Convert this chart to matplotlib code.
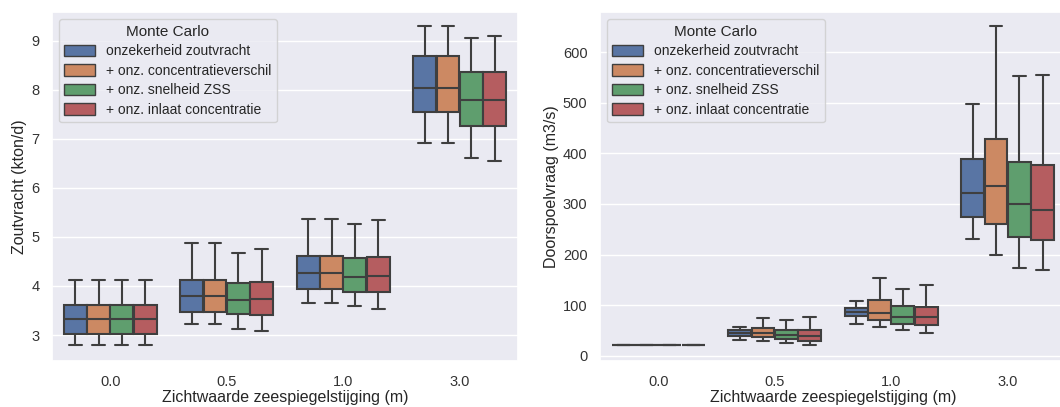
import numpy as np
import matplotlib.pyplot as plt
import seaborn as sns
from matplotlib.patches import Patch

sns.set_theme(style="darkgrid")
plt.rcParams['font.family'] = ['Liberation Sans', 'DejaVu Sans']

groups = ["0.0", "0.5", "1.0", "3.0"]
series = ["onzekerheid zoutvracht", "+ onz. concentratieverschil",
          "+ onz. snelheid ZSS", "+ onz. inlaat concentratie"]

# Zoutvracht (kton/d): [whislo, q1, median, q3, whishi] per group, per series
zout = {
    "onzekerheid zoutvracht":     [[2.80, 3.03, 3.32, 3.61, 4.12], [3.22, 3.46, 3.80, 4.12, 4.87],
                                   [3.65, 3.93, 4.26, 4.62, 5.36], [6.91, 7.55, 8.04, 8.69, 9.30]],
    "+ onz. concentratieverschil": [[2.80, 3.03, 3.32, 3.61, 4.12], [3.22, 3.46, 3.80, 4.12, 4.87],
                                   [3.65, 3.93, 4.26, 4.62, 5.36], [6.91, 7.55, 8.04, 8.69, 9.30]],
    "+ onz. snelheid ZSS":        [[2.80, 3.03, 3.32, 3.61, 4.12], [3.12, 3.42, 3.71, 4.07, 4.68],
                                   [3.59, 3.88, 4.19, 4.58, 5.26], [6.61, 7.27, 7.80, 8.37, 9.06]],
    "+ onz. inlaat concentratie": [[2.80, 3.03, 3.32, 3.61, 4.12], [3.09, 3.40, 3.73, 4.09, 4.76],
                                   [3.54, 3.88, 4.20, 4.60, 5.34], [6.55, 7.26, 7.79, 8.37, 9.10]],
}

# Doorspoelvraag (m3/s)
doorspoel = {
    "onzekerheid zoutvracht":     [[21, 21, 21, 21, 21], [32, 40, 46, 51, 57],
                                   [64, 78, 86, 95, 109], [230, 274, 322, 388, 497]],
    "+ onz. concentratieverschil": [[21, 21, 21, 21, 21], [30, 37, 45, 55, 74],
                                   [58, 71, 84, 110, 154], [200, 260, 336, 428, 651]],
    "+ onz. snelheid ZSS":        [[21, 21, 21, 21, 21], [25, 33, 42, 51, 71],
                                   [51, 64, 77, 99, 132], [174, 234, 299, 382, 553]],
    "+ onz. inlaat concentratie": [[21, 21, 21, 21, 21], [21, 30, 39, 52, 77],
                                   [45, 62, 76, 96, 141], [170, 229, 289, 376, 554]],
}

colors = [sns.desaturate(c, 0.75) for c in sns.color_palette("deep")[:4]]
edge = "#3f3f3f"


def draw(ax, data, ylabel, ylim):
    w = 0.2
    for j, s in enumerate(series):
        stats = []
        for i, g in enumerate(groups):
            lo, q1, med, q3, hi = data[s][i]
            stats.append(dict(whislo=lo, q1=q1, med=med, q3=q3, whishi=hi, fliers=[]))
        pos = np.arange(len(groups)) - 0.4 + w / 2 + j * w
        ax.bxp(stats, positions=pos, widths=w * 0.98, patch_artist=True,
               showfliers=False, manage_ticks=False,
               boxprops=dict(facecolor=colors[j], edgecolor=edge, linewidth=1.5),
               medianprops=dict(color=edge, linewidth=1.5),
               whiskerprops=dict(color=edge, linewidth=1.5),
               capprops=dict(color=edge, linewidth=1.5),
               capwidths=w * 0.55)
    ax.set_xticks(range(len(groups)))
    ax.set_xticklabels(groups)
    ax.set_xlim(-0.5, len(groups) - 0.5)
    ax.set_ylim(*ylim)
    ax.xaxis.grid(False)
    ax.tick_params(labelsize=10.5, colors="#333333")
    ax.tick_params(axis="x", pad=4)
    ax.tick_params(axis="y", pad=3)
    ax.set_xlabel("Zichtwaarde zeespiegelstijging (m)", fontsize=11.5, color="#262626", labelpad=1)
    ax.set_ylabel(ylabel, fontsize=11.5, color="#262626", labelpad=3)
    handles = [Patch(facecolor=colors[j], edgecolor=edge, linewidth=1.0, label=s)
               for j, s in enumerate(series)]
    leg = ax.legend(handles=handles, title="Monte Carlo", loc="upper left",
                    fontsize=10, title_fontsize=11, borderaxespad=0.5,
                    handlelength=2.2, handleheight=0.9, labelspacing=0.4)
    leg.get_frame().set_facecolor("#eaeaf2")


fig = plt.figure(figsize=(10.6, 4.07), dpi=100)
ax1 = fig.add_axes([0.049, 0.113, 0.4396, 0.8575])
ax2 = fig.add_axes([0.566, 0.113, 0.4396, 0.8575])

draw(ax1, zout, "Zoutvracht (kton/d)", (2.47, 9.585))
ax1.set_yticks([3, 4, 5, 6, 7, 8, 9])
draw(ax2, doorspoel, "Doorspoelvraag (m3/s)", (-10, 679))
ax2.set_yticks([0, 100, 200, 300, 400, 500, 600])

fig.savefig("out.png", dpi=100)
